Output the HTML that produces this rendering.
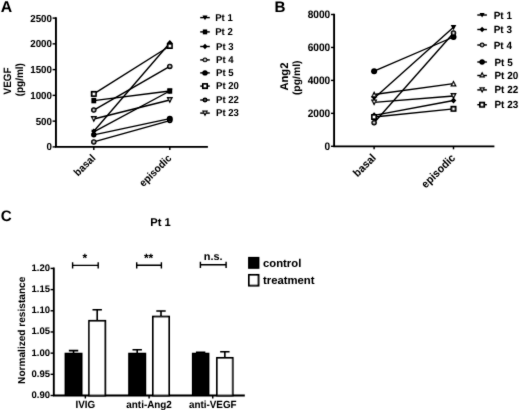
<!DOCTYPE html>
<html lang="en">
<head>
<meta charset="utf-8">
<title>Figure</title>
<style>
html,body{margin:0;padding:0;background:#fff;}
body{width:520px;height:410px;overflow:hidden;}
svg{display:block;font-family:"Liberation Sans", Arial, Helvetica, sans-serif;font-weight:bold;fill:#000;}
svg text{text-rendering:geometricPrecision;}
</style>
</head>
<body>
<svg width="520" height="410" viewBox="0 0 520 410">
<defs><filter id="soft" x="0" y="0" width="520" height="410" filterUnits="userSpaceOnUse"><feConvolveMatrix order="3" kernelMatrix="0.02 0.07 0.02 0.07 0.64 0.07 0.02 0.07 0.02" divisor="1" edgeMode="none" preserveAlpha="false"/><feComponentTransfer><feFuncA type="linear" slope="1.06" intercept="0"/></feComponentTransfer></filter></defs>
<rect x="0" y="0" width="520" height="410" fill="#fff" stroke="none"/>
<g filter="url(#soft)">
<!-- Panel A -->
<text x="0.8" y="11.9" font-size="15.8" text-anchor="start" >A</text>
<path d="M55.95 17.25V146.9H207.9" fill="none" stroke="#000" stroke-width="1.85"/>
<path d="M52.6 146.90H55.95" stroke="#000" stroke-width="1.4"/>
<text font-size="10.1" text-anchor="end" transform="translate(51.9 150.3) scale(0.965 1)">0</text>
<path d="M52.6 121.14H55.95" stroke="#000" stroke-width="1.4"/>
<text font-size="10.1" text-anchor="end" transform="translate(51.9 124.54) scale(0.965 1)">500</text>
<path d="M52.6 95.38H55.95" stroke="#000" stroke-width="1.4"/>
<text font-size="10.1" text-anchor="end" transform="translate(51.9 98.78) scale(0.965 1)">1000</text>
<path d="M52.6 69.62H55.95" stroke="#000" stroke-width="1.4"/>
<text font-size="10.1" text-anchor="end" transform="translate(51.9 73.02) scale(0.965 1)">1500</text>
<path d="M52.6 43.86H55.95" stroke="#000" stroke-width="1.4"/>
<text font-size="10.1" text-anchor="end" transform="translate(51.9 47.26) scale(0.965 1)">2000</text>
<path d="M52.6 18.10H55.95" stroke="#000" stroke-width="1.4"/>
<text font-size="10.1" text-anchor="end" transform="translate(51.9 21.5) scale(0.965 1)">2500</text>
<path d="M93.8 146.9v3" stroke="#000" stroke-width="1.4"/>
<path d="M169.8 146.9v3" stroke="#000" stroke-width="1.4"/>
<text x="0" y="0" font-size="10.6" text-anchor="end" transform="translate(96.1 158.8) rotate(-45) scale(0.94 1)">basal</text>
<text x="0" y="0" font-size="10.6" text-anchor="end" transform="translate(172.1 158.8) rotate(-45) scale(0.94 1)">episodic</text>
<text x="0" y="0" font-size="10.7" text-anchor="middle" transform="translate(10.6 81) rotate(-90) scale(0.92 1)">VEGF</text>
<text x="0" y="0" font-size="10.5" text-anchor="middle" transform="translate(22.6 79.7) rotate(-90) scale(0.95 1)">(pg/ml)</text>
<path d="M93.8 93.9L169.8 46" stroke="#000" stroke-width="1.32"/>
<path d="M93.8 100.6L169.8 91" stroke="#000" stroke-width="1.32"/>
<path d="M93.8 110.1L169.8 66.4" stroke="#000" stroke-width="1.32"/>
<path d="M93.8 119L169.8 100" stroke="#000" stroke-width="1.32"/>
<path d="M93.8 131.3L169.8 43" stroke="#000" stroke-width="1.32"/>
<path d="M93.8 131.8L169.8 91" stroke="#000" stroke-width="1.32"/>
<path d="M93.8 134.8L169.8 118.7" stroke="#000" stroke-width="1.32"/>
<path d="M93.8 141.9L169.8 120.6" stroke="#000" stroke-width="1.32"/>
<path d="M91.28 129.73H96.32L93.8 134.41Z" fill="#000"/>
<path d="M167.00 88.70H172.60L169.8 93.90Z" fill="#000"/>
<path d="M93.8 128.51L96.32 131.3L93.8 134.09L91.28 131.3Z" fill="#000"/>
<path d="M169.8 39.90L172.60 43L169.8 46.10L167.00 43Z" fill="#000"/>
<circle cx="93.8" cy="110.1" r="1.95" fill="#d0d0d0" stroke="#000" stroke-width="1.60"/>
<circle cx="169.8" cy="66.4" r="1.95" fill="#d0d0d0" stroke="#000" stroke-width="1.60"/>
<circle cx="93.8" cy="141.9" r="1.95" fill="#d0d0d0" stroke="#000" stroke-width="1.60"/>
<circle cx="169.8" cy="120.6" r="1.95" fill="#d0d0d0" stroke="#000" stroke-width="1.60"/>
<circle cx="93.8" cy="134.8" r="2.70" fill="#000"/>
<circle cx="169.8" cy="118.7" r="3.00" fill="#000"/>
<rect x="91.40" y="97.90" width="4.80" height="5.40" fill="#000"/>
<rect x="167.40" y="88.30" width="4.80" height="5.40" fill="#000"/>
<path d="M90.56 116.08H97.04L93.8 122.56Z" fill="#000"/><path d="M92.72 117.43H94.88L93.8 119.59Z" fill="#fff"/>
<path d="M166.56 97.08H173.04L169.8 103.56Z" fill="#000"/><path d="M168.72 98.43H170.88L169.8 100.59Z" fill="#fff"/>
<rect x="91.75" y="91.85" width="4.10" height="4.10" fill="#fff" stroke="#000" stroke-width="1.90"/>
<rect x="167.75" y="43.95" width="4.10" height="4.10" fill="#fff" stroke="#000" stroke-width="1.90"/>
<path d="M200.2 17.6h9.6" stroke="#000" stroke-width="1.4"/>
<path d="M202.48 15.53H207.52L205 20.21Z" fill="#000"/>
<text font-size="10" text-anchor="start" transform="translate(215.2 20.95) scale(0.955 1)">Pt 1</text>
<path d="M200.2 31.9h9.6" stroke="#000" stroke-width="1.4"/>
<rect x="202.84" y="29.47" width="4.32" height="4.86" fill="#000"/>
<text font-size="10" text-anchor="start" transform="translate(215.2 35.25) scale(0.955 1)">Pt 2</text>
<path d="M200.2 46.5h9.6" stroke="#000" stroke-width="1.4"/>
<path d="M205 43.71L207.52 46.5L205 49.29L202.48 46.5Z" fill="#000"/>
<text font-size="10" text-anchor="start" transform="translate(216.1 49.85) scale(0.955 1)">Pt 3</text>
<path d="M200.2 59.9h9.6" stroke="#000" stroke-width="1.4"/>
<circle cx="205" cy="59.9" r="1.75" fill="#d0d0d0" stroke="#000" stroke-width="1.44"/>
<text font-size="10" text-anchor="start" transform="translate(216.1 63.25) scale(0.955 1)">Pt 4</text>
<path d="M200.2 72.9h9.6" stroke="#000" stroke-width="1.4"/>
<circle cx="205" cy="72.9" r="2.70" fill="#000"/>
<text font-size="10" text-anchor="start" transform="translate(216.1 76.25) scale(0.955 1)">Pt 5</text>
<path d="M200.2 86.1h9.6" stroke="#000" stroke-width="1.4"/>
<rect x="202.95" y="84.05" width="4.10" height="4.10" fill="#fff" stroke="#000" stroke-width="1.90"/>
<text font-size="10" text-anchor="start" transform="translate(216.1 89.45) scale(0.955 1)">Pt 20</text>
<path d="M200.2 100h9.6" stroke="#000" stroke-width="1.4"/>
<circle cx="205" cy="100" r="1.75" fill="#555" stroke="#000" stroke-width="1.44"/>
<text font-size="10" text-anchor="start" transform="translate(216.1 103.35) scale(0.955 1)">Pt 22</text>
<path d="M200.2 113.1h9.6" stroke="#000" stroke-width="1.4"/>
<path d="M202.00 110.40H208.00L205 116.40Z" fill="#000"/><path d="M204.00 111.65H206.00L205 113.65Z" fill="#fff"/>
<text font-size="10" text-anchor="start" transform="translate(216.1 116.45) scale(0.955 1)">Pt 23</text>
<!-- Panel B -->
<text x="274.4" y="11.9" font-size="15.2" text-anchor="start" >B</text>
<path d="M334.1 13.65V146.3H494.4" fill="none" stroke="#000" stroke-width="1.85"/>
<path d="M331 146.30H334.1" stroke="#000" stroke-width="1.4"/>
<text font-size="10.9" text-anchor="end" transform="translate(330.2 150.05) scale(0.93 1)">0</text>
<path d="M331 113.35H334.1" stroke="#000" stroke-width="1.4"/>
<text font-size="10.9" text-anchor="end" transform="translate(330.2 117.1) scale(0.93 1)">2000</text>
<path d="M331 80.40H334.1" stroke="#000" stroke-width="1.4"/>
<text font-size="10.9" text-anchor="end" transform="translate(330.2 84.15) scale(0.93 1)">4000</text>
<path d="M331 47.45H334.1" stroke="#000" stroke-width="1.4"/>
<text font-size="10.9" text-anchor="end" transform="translate(330.2 51.2) scale(0.93 1)">6000</text>
<path d="M331 14.50H334.1" stroke="#000" stroke-width="1.4"/>
<text font-size="10.9" text-anchor="end" transform="translate(330.2 18.25) scale(0.93 1)">8000</text>
<path d="M374.1 146.3v3" stroke="#000" stroke-width="1.4"/>
<path d="M453.5 146.3v3" stroke="#000" stroke-width="1.4"/>
<text x="0" y="0" font-size="11.2" text-anchor="end" transform="translate(376.6 158.5) rotate(-45) scale(0.94 1)">basal</text>
<text x="0" y="0" font-size="11.2" text-anchor="end" transform="translate(456.0 158.5) rotate(-45) scale(0.94 1)">episodic</text>
<text x="0" y="0" font-size="11.2" text-anchor="middle" transform="translate(287.5 76.6) rotate(-90)">Ang2</text>
<text x="0" y="0" font-size="10.4" text-anchor="middle" transform="translate(299.5 77.8) rotate(-90)">(pg/ml)</text>
<path d="M374.1 71.2L453.5 37" stroke="#000" stroke-width="1.32"/>
<path d="M374.1 98.3L453.5 27.3" stroke="#000" stroke-width="1.32"/>
<path d="M374.1 122.7L453.5 33" stroke="#000" stroke-width="1.32"/>
<path d="M374.1 94.5L453.5 83.7" stroke="#000" stroke-width="1.32"/>
<path d="M374.1 102.3L453.5 96" stroke="#000" stroke-width="1.32"/>
<path d="M374.1 115.3L453.5 100.5" stroke="#000" stroke-width="1.32"/>
<path d="M374.1 117L453.5 108.8" stroke="#000" stroke-width="1.32"/>
<path d="M371.30 96.00H376.90L374.1 101.20Z" fill="#000"/>
<path d="M450.70 25.00H456.30L453.5 30.20Z" fill="#000"/>
<path d="M374.1 112.20L376.90 115.3L374.1 118.40L371.30 115.3Z" fill="#000"/>
<path d="M453.5 97.40L456.30 100.5L453.5 103.60L450.70 100.5Z" fill="#000"/>
<circle cx="374.1" cy="71.2" r="3.00" fill="#000"/>
<circle cx="453.5" cy="37" r="3.00" fill="#000"/>
<circle cx="374.1" cy="122.7" r="1.95" fill="#d0d0d0" stroke="#000" stroke-width="1.60"/>
<circle cx="453.5" cy="33" r="1.95" fill="#d0d0d0" stroke="#000" stroke-width="1.60"/>
<path d="M370.86 97.42H377.34L374.1 90.94Z" fill="#000"/><path d="M373.02 96.07H375.18L374.1 93.91Z" fill="#fff"/>
<path d="M450.26 86.62H456.74L453.5 80.14Z" fill="#000"/><path d="M452.42 85.27H454.58L453.5 83.11Z" fill="#fff"/>
<path d="M370.86 99.38H377.34L374.1 105.86Z" fill="#000"/><path d="M373.02 100.73H375.18L374.1 102.89Z" fill="#fff"/>
<path d="M450.26 93.08H456.74L453.5 99.56Z" fill="#000"/><path d="M452.42 94.43H454.58L453.5 96.59Z" fill="#fff"/>
<rect x="372.05" y="114.95" width="4.10" height="4.10" fill="#fff" stroke="#000" stroke-width="1.90"/>
<rect x="451.45" y="106.75" width="4.10" height="4.10" fill="#fff" stroke="#000" stroke-width="1.90"/>
<path d="M477.3 15h9.6" stroke="#000" stroke-width="1.4"/>
<path d="M479.58 12.93H484.62L482.1 17.61Z" fill="#000"/>
<text font-size="10.4" text-anchor="start" transform="translate(493.7 18.5) scale(0.955 1)">Pt 1</text>
<path d="M477.3 29.5h9.6" stroke="#000" stroke-width="1.4"/>
<path d="M482.1 26.71L484.62 29.5L482.1 32.29L479.58 29.5Z" fill="#000"/>
<text font-size="10.4" text-anchor="start" transform="translate(493.7 33.0) scale(0.955 1)">Pt 3</text>
<path d="M477.3 45h9.6" stroke="#000" stroke-width="1.4"/>
<circle cx="482.1" cy="45" r="1.75" fill="#d0d0d0" stroke="#000" stroke-width="1.44"/>
<text font-size="10.4" text-anchor="start" transform="translate(493.7 48.5) scale(0.955 1)">Pt 4</text>
<path d="M477.3 62h9.6" stroke="#000" stroke-width="1.4"/>
<circle cx="482.1" cy="62" r="2.70" fill="#000"/>
<text font-size="10.4" text-anchor="start" transform="translate(494.5 65.5) scale(0.955 1)">Pt 5</text>
<path d="M477.3 75.5h9.6" stroke="#000" stroke-width="1.4"/>
<path d="M479.10 77.40H485.10L482.1 71.40Z" fill="#000"/><path d="M481.10 76.15H483.10L482.1 74.15Z" fill="#fff"/>
<text font-size="10.4" text-anchor="start" transform="translate(494.5 79.0) scale(0.955 1)">Pt 20</text>
<path d="M477.3 89.9h9.6" stroke="#000" stroke-width="1.4"/>
<path d="M479.10 87.20H485.10L482.1 93.20Z" fill="#000"/><path d="M481.10 88.45H483.10L482.1 90.45Z" fill="#fff"/>
<text font-size="10.4" text-anchor="start" transform="translate(494.5 93.4) scale(0.955 1)">Pt 22</text>
<path d="M477.3 104.7h9.6" stroke="#000" stroke-width="1.4"/>
<rect x="480.05" y="102.65" width="4.10" height="4.10" fill="#fff" stroke="#000" stroke-width="1.90"/>
<text font-size="10.4" text-anchor="start" transform="translate(494.5 108.2) scale(0.955 1)">Pt 23</text>
<!-- Panel C -->
<text x="0.8" y="221.3" font-size="15.2" text-anchor="start" >C</text>
<text x="160.5" y="226.2" font-size="11.2" text-anchor="middle" >Pt 1</text>
<path d="M53.8 267.57V395.5H244.8" fill="none" stroke="#000" stroke-width="1.85"/>
<path d="M50.6 395.50H53.8" stroke="#000" stroke-width="1.4"/>
<text x="50.0" y="397.9" font-size="9.5" text-anchor="end" >0.90</text>
<path d="M50.6 374.32H53.8" stroke="#000" stroke-width="1.4"/>
<text x="50.0" y="376.72" font-size="9.5" text-anchor="end" >0.95</text>
<path d="M50.6 353.14H53.8" stroke="#000" stroke-width="1.4"/>
<text x="50.0" y="355.54" font-size="9.5" text-anchor="end" >1.00</text>
<path d="M50.6 331.96H53.8" stroke="#000" stroke-width="1.4"/>
<text x="50.0" y="334.36" font-size="9.5" text-anchor="end" >1.05</text>
<path d="M50.6 310.78H53.8" stroke="#000" stroke-width="1.4"/>
<text x="50.0" y="313.18" font-size="9.5" text-anchor="end" >1.10</text>
<path d="M50.6 289.60H53.8" stroke="#000" stroke-width="1.4"/>
<text x="50.0" y="292.0" font-size="9.5" text-anchor="end" >1.15</text>
<path d="M50.6 268.42H53.8" stroke="#000" stroke-width="1.4"/>
<text x="50.0" y="270.82" font-size="9.5" text-anchor="end" >1.20</text>
<text x="0" y="0" font-size="10.1" text-anchor="middle" transform="translate(25.3 330.3) rotate(-90)">Normalized resistance</text>
<path d="M73.55 353.14V350.60M68.85 350.60h9.4" stroke="#000" stroke-width="1.55" fill="none"/>
<rect x="64.6" y="352.74" width="17.9" height="42.76" fill="#000"/>
<path d="M97.20 320.31V309.72M92.50 309.72h9.4" stroke="#000" stroke-width="1.55" fill="none"/>
<rect x="89.10000000000001" y="320.81" width="16.2" height="74.69" fill="#fff" stroke="#000" stroke-width="1.8"/>
<path d="M85.35 395.5v3" stroke="#000" stroke-width="1.4"/>
<text font-size="10.4" text-anchor="middle" transform="translate(85.35 407.8) scale(0.95 1)">IVIG</text>
<path d="M137.20 353.14V349.75M132.50 349.75h9.4" stroke="#000" stroke-width="1.55" fill="none"/>
<rect x="128.2" y="352.74" width="18.0" height="42.76" fill="#000"/>
<path d="M161.00 316.08V310.99M156.30 310.99h9.4" stroke="#000" stroke-width="1.55" fill="none"/>
<rect x="152.9" y="316.58" width="16.2" height="78.92" fill="#fff" stroke="#000" stroke-width="1.8"/>
<path d="M149.10 395.5v3" stroke="#000" stroke-width="1.4"/>
<text font-size="10.4" text-anchor="middle" transform="translate(149.1 407.8) scale(0.95 1)">anti-Ang2</text>
<path d="M200.65 353.14V352.29M195.95 352.29h9.4" stroke="#000" stroke-width="1.55" fill="none"/>
<rect x="191.9" y="352.74" width="17.5" height="42.76" fill="#000"/>
<path d="M224.85 357.38V351.66M220.15 351.66h9.4" stroke="#000" stroke-width="1.55" fill="none"/>
<rect x="217.0" y="357.88" width="15.7" height="37.62" fill="#fff" stroke="#000" stroke-width="1.8"/>
<path d="M212.75 395.5v3" stroke="#000" stroke-width="1.4"/>
<text font-size="10.4" text-anchor="middle" transform="translate(212.75 407.8) scale(0.95 1)">anti-VEGF</text>
<path d="M72.6 265.4H98.2M72.6 262.29999999999995v6.2M98.2 262.29999999999995v6.2" stroke="#000" stroke-width="1.4" fill="none"/>
<text x="84.9" y="262.3" font-size="12" text-anchor="middle" >*</text>
<path d="M136.7 265.3H161.4M136.7 262.2v6.2M161.4 262.2v6.2" stroke="#000" stroke-width="1.4" fill="none"/>
<text x="148.55" y="262.3" font-size="12" text-anchor="middle" >**</text>
<path d="M200.4 264.8H226.1M200.4 261.7v6.2M226.1 261.7v6.2" stroke="#000" stroke-width="1.4" fill="none"/>
<text x="213.25" y="260" font-size="10.9" text-anchor="middle" >n.s.</text>
<rect x="248.1" y="256.9" width="11.3" height="11.9" fill="#000"/>
<rect x="249" y="274.9" width="9.5" height="10.7" fill="#fff" stroke="#000" stroke-width="1.9"/>
<text x="263" y="267" font-size="11.3" text-anchor="start" >control</text>
<text x="263" y="283.6" font-size="11.3" text-anchor="start" >treatment</text>
</g>
</svg>
</body>
</html>
